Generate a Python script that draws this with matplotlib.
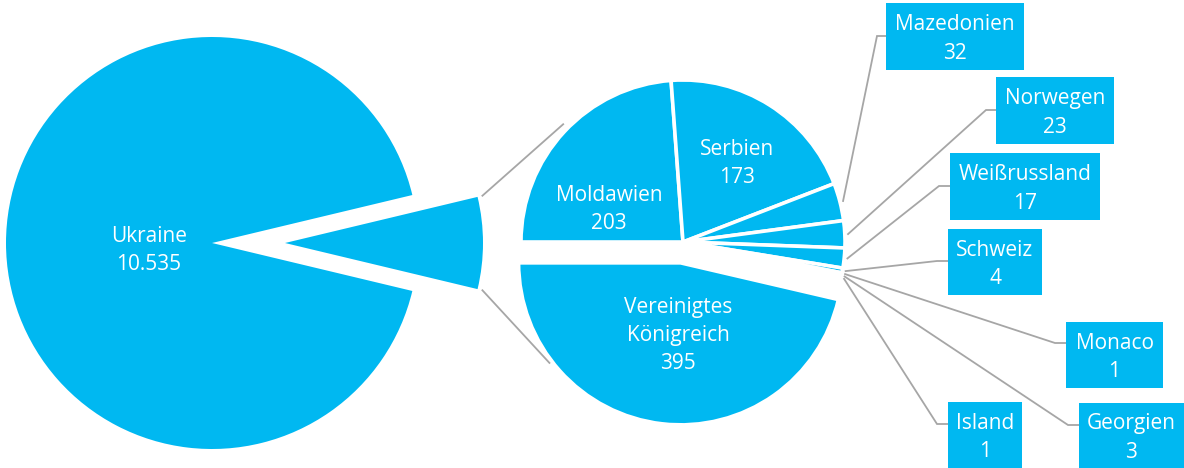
import numpy as np
import matplotlib
matplotlib.use("Agg")
import matplotlib.pyplot as plt
from matplotlib.patches import Rectangle

# data
main_name = "Ukraine"
main_value = 10535
countries = ["Moldawien", "Serbien", "Mazedonien", "Norwegen", "Weißrussland",
             "Schweiz", "Monaco", "Georgien", "Island", "Vereinigtes\nKönigreich"]
values = [203, 173, 32, 23, 17, 4, 1, 3, 1, 395]

CYAN = "#00B8F1"
GREY = "#A6A6A6"
H = 468
FS = 15
LS = 1.45
DY = 2.5  # small downward nudge for text

plt.rcParams['font.family'] = ['Open Sans', 'DejaVu Sans']


def fmt(v):
    return f"{v:,}".replace(",", ".")


def Y(y):
    return H - y


fig = plt.figure(figsize=(11.84, 4.68), dpi=100)
ax = fig.add_axes([0, 0, 1, 1])

# primary pie: "other" slice exploded to the right
other = sum(values)
other_deg = 360 * other / (other + main_value)
c1 = (212, Y(243))
r1 = 206
ex1 = 73
w1, _ = ax.pie([other, main_value], colors=[CYAN, CYAN], radius=r1, center=c1,
               startangle=-other_deg / 2, explode=[ex1, 0],
               wedgeprops=dict(edgecolor="none"))
w1[0].set_radius(198)
ax.text(149, Y(248 + DY), f"{main_name}\n{fmt(main_value)}", color="white",
        ha="center", va="center", fontsize=FS, linespacing=LS)

# secondary pie
c2 = (683, Y(242))
r2 = 162
ex_uk = 21
w2, _ = ax.pie(values, colors=[CYAN] * len(values), radius=r2, center=c2,
               startangle=180, counterclock=False,
               explode=[0] * (len(values) - 1) + [ex_uk],
               wedgeprops=dict(edgecolor="white", linewidth=2.6))

# series lines between the two pies
a = np.deg2rad(other_deg / 2)
rs = 203
p_top = (c1[0] + ex1 + rs * np.cos(a), c1[1] + rs * np.sin(a))
p_bot = (c1[0] + ex1 + rs * np.cos(a), c1[1] - rs * np.sin(a))
t_top = np.deg2rad(135.5)
t_bot = np.deg2rad(-143)
q_top = (c2[0] + 168 * np.cos(t_top), c2[1] + 168 * np.sin(t_top))
uk_c = (c2[0] - 1, c2[1] - ex_uk)
q_bot = (uk_c[0] + 166 * np.cos(t_bot), uk_c[1] + 166 * np.sin(t_bot))
ax.plot([p_top[0], q_top[0]], [p_top[1], q_top[1]], color=GREY, lw=1.3)
ax.plot([p_bot[0], q_bot[0]], [p_bot[1], q_bot[1]], color=GREY, lw=1.3)

# labels inside the secondary pie
inside = {0: (609, 207), 1: (737, 161), 9: (678, 333)}
for i, (x, y) in inside.items():
    ax.text(x, Y(y + DY), f"{countries[i]}\n{fmt(values[i])}", color="white",
            ha="center", va="center", fontsize=FS, linespacing=LS)

# callout boxes for the small slices: (x0, x1, y0, y1, elbow_x, elbow_y)
boxes = {
    2: (886, 1024, 3, 70, 877, 36),
    3: (996, 1114, 77, 144, 986, 110),
    4: (950, 1100, 153, 220, 939, 186),
    5: (948, 1042, 229, 295, 937, 261),
    6: (1066, 1163, 322, 388, 1055, 343),
    7: (1079, 1184, 403, 468, 1068, 425),
    8: (948, 1022, 402, 468, 937, 424),
}
starts = np.cumsum([0] + values)
total = sum(values)
for i, (x0, x1, y0, y1, ex, ey) in boxes.items():
    mid = 180 - 360 * (starts[i] + values[i] / 2) / total
    m = np.deg2rad(mid)
    sx = c2[0] + r2 * 1.02 * np.cos(m)
    sy = c2[1] + r2 * 1.02 * np.sin(m)
    ax.plot([sx, ex, x0], [sy, Y(ey), Y(ey)], color=GREY, lw=1.3,
            solid_joinstyle="miter")
    ax.add_patch(Rectangle((x0, Y(y1)), x1 - x0, y1 - y0, facecolor=CYAN,
                           edgecolor="none", zorder=3))
    ax.text((x0 + x1) / 2, Y((y0 + y1) / 2 + DY), f"{countries[i]}\n{fmt(values[i])}",
            color="white", ha="center", va="center", fontsize=FS,
            linespacing=LS, zorder=4)

ax.set_xlim(0, 1184)
ax.set_ylim(0, H)
ax.set_aspect("auto")
ax.axis("off")

fig.savefig("out.png", dpi=100, facecolor="white")
